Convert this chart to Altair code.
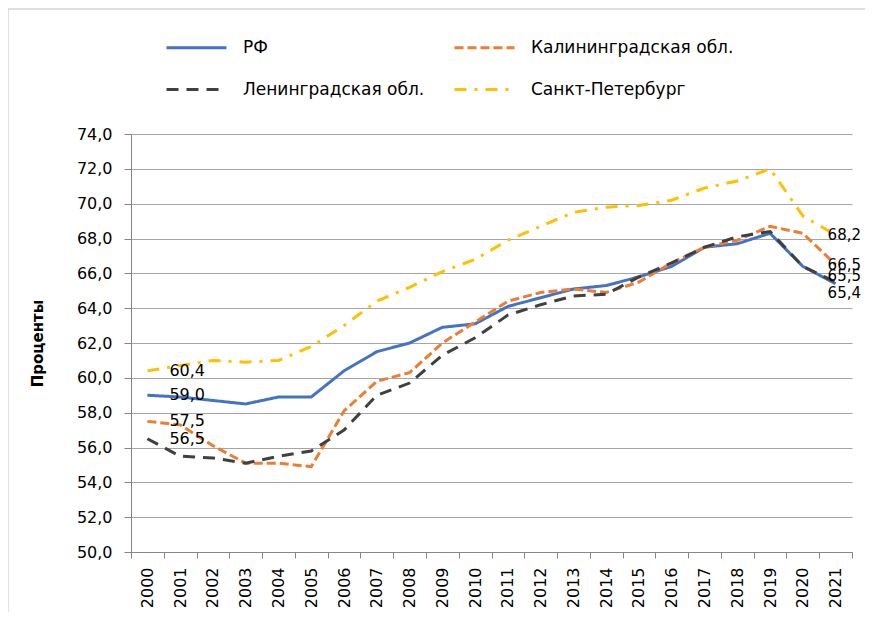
import altair as alt
import pandas as pd

years = [str(y) for y in range(2000, 2022)]
series_names = ["РФ", "Калининградская обл.", "Ленинградская обл.", "Санкт-Петербург"]
rf = [59.0, 58.9, 58.7, 58.5, 58.9, 58.9, 60.4, 61.5, 62.0, 62.9, 63.1, 64.1, 64.6, 65.1, 65.3, 65.8, 66.4, 67.5, 67.7, 68.3, 66.4, 65.4]
kal = [57.5, 57.3, 56.1, 55.1, 55.1, 54.9, 58.1, 59.8, 60.3, 62.0, 63.2, 64.4, 64.9, 65.1, 64.9, 65.5, 66.6, 67.5, 67.9, 68.7, 68.3, 66.5]
lenobl = [56.5, 55.5, 55.4, 55.1, 55.5, 55.8, 57.0, 59.0, 59.7, 61.3, 62.3, 63.6, 64.2, 64.7, 64.8, 65.8, 66.6, 67.5, 68.1, 68.4, 66.4, 65.5]
spb = [60.4, 60.7, 61.0, 60.9, 61.0, 61.8, 63.0, 64.4, 65.2, 66.1, 66.8, 67.9, 68.7, 69.5, 69.8, 69.9, 70.2, 70.9, 71.3, 72.0, 69.3, 68.2]
y_ticks = [50, 52, 54, 56, 58, 60, 62, 64, 66, 68, 70, 72, 74]
colors = ["#4472C4", "#ED7D31", "#404040", "#FFC000"]
dashes = [[1, 0], [9, 4], [12, 8], [12, 8, 3, 8]]

rows = []
for name, vals in zip(series_names, [rf, kal, lenobl, spb]):
    for y, v in zip(years, vals):
        rows.append({"year": y, "series": name, "value": v})
df = pd.DataFrame(rows)

FONT = "DejaVu Sans"

x_axis = alt.Axis(labelAngle=-90, labelAlign="right", labelBaseline="middle",
                  labelFontSize=16, labelFont=FONT, labelColor="#000000",
                  labelPadding=9, tickBand="extent", tickSize=6,
                  tickColor="#868686", domainColor="#868686", grid=False)
y_axis = alt.Axis(values=y_ticks, labelOverlap=False, tickCount=13,
                  labelExpr="replace(format(datum.value, '.1f'), '.', ',')",
                  labelFontSize=16, labelFont=FONT, labelColor="#000000",
                  labelPadding=12, tickSize=7, tickColor="#868686",
                  domainColor="#868686", gridColor="#A6A6A6",
                  titleFont=FONT, titleFontSize=15, titleFontWeight="bold",
                  titleColor="#000000", titleAngle=-90, titleX=-94, titleY=209,
                  titleAlign="center", titleBaseline="middle")
x_scale = alt.Scale(type="band", paddingInner=0, paddingOuter=0)
y_scale = alt.Scale(domain=[50, 74], nice=False, zero=False)

def x_enc():
    return alt.X("year:O", title=None, scale=x_scale, axis=x_axis)

def y_enc():
    return alt.Y("value:Q", title="Проценты", scale=y_scale, axis=y_axis)

base = alt.Chart(df)

lines = base.mark_line(strokeWidth=3).encode(
    x=x_enc(),
    y=y_enc(),
    color=alt.Color("series:N", scale=alt.Scale(domain=series_names, range=colors),
                    legend=alt.Legend(orient="none", legendX=34, legendY=-118, columns=2,
                                      direction="horizontal", title=None,
                                      symbolType="stroke", symbolSize=3600,
                                      symbolStrokeWidth=3, labelFontSize=17, labelFont=FONT,
                                      labelColor="#000000", labelOffset=15, labelLimit=400,
                                      gridAlign="each", columnPadding=23, rowPadding=2)),
    strokeDash=alt.StrokeDash("series:N", scale=alt.Scale(domain=series_names, range=dashes),
                              legend=None),
)

label_expr = "replace(format(datum.value, '.1f'), '.', ',')"

def labels(cond, dx, dy=0, size=16):
    return base.transform_filter(cond).transform_calculate(lbl=label_expr).mark_text(
        align="left", baseline="middle", dx=dx, dy=dy, fontSize=size, font=FONT,
        color="#000000").encode(x=x_enc(), y=y_enc(), text="lbl:N")

start_labels = labels(alt.datum.year == "2000", 22)
end_normal = labels((alt.datum.year == "2021") & ((alt.datum.series == "Санкт-Петербург") | (alt.datum.series == "Калининградская обл.")), -8, 0, 15)
end_up = labels((alt.datum.year == "2021") & (alt.datum.series == "Ленинградская обл."), -8, -6, 15)
end_down = labels((alt.datum.year == "2021") & (alt.datum.series == "РФ"), -8, 9, 15)

border = alt.Chart(alt.Data(values=[{"a": 1}])).mark_rect(
    filled=False, stroke="#BFBFBF", strokeWidth=1).encode(
    x=alt.value(-123), x2=alt.value(800), y=alt.value(-125), y2=alt.value(700))

chart = alt.layer(border, lines, start_labels, end_normal, end_up, end_down).properties(
    width=721, height=418,
    autosize=alt.AutoSizeParams(type="none"),
    padding={"left": 123, "top": 126, "right": 13, "bottom": 60},
).configure_view(stroke=None).configure_axis(domainWidth=1, gridWidth=1)

chart.save("out.html", embed_options={"renderer": "svg", "actions": False})
